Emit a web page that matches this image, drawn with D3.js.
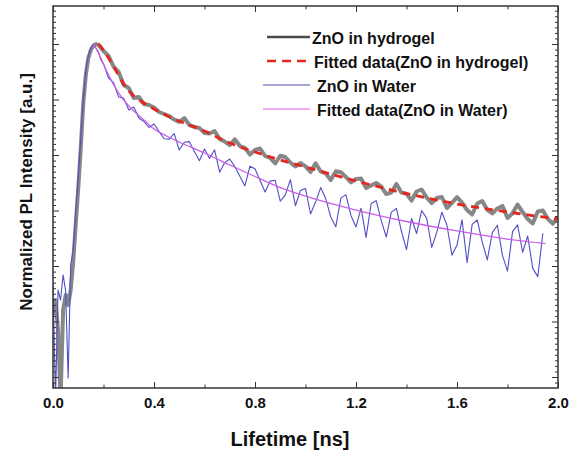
<!DOCTYPE html>
<html>
<head>
<meta charset="utf-8">
<script src="https://cdn.jsdelivr.net/npm/d3@7"></script>
<style>
  html, body { margin: 0; padding: 0; background: #fff; }
  svg { display: block; font-family: 'Liberation Sans', Arial, sans-serif; }
</style>
</head>
<body>
<div id="chart"></div>
<script>
const width = 576;
const height = 451;
const margin = { top: 6, right: 18, bottom: 63, left: 53 };

// time channels (ns)
const timeNs = [
  0, 0.01, 0.02, 0.03, 0.04, 0.05, 0.06, 0.07, 0.08, 0.09, 0.1, 0.11, 0.12, 0.13, 0.14,
  0.15, 0.16, 0.17, 0.18, 0.19, 0.2,
  0.22, 0.24, 0.26, 0.28, 0.3, 0.32, 0.34, 0.36, 0.38, 0.4, 0.42, 0.44, 0.46, 0.48, 0.5,
  0.52, 0.54, 0.56, 0.58, 0.6, 0.62, 0.64, 0.66, 0.68, 0.7, 0.72, 0.74, 0.76, 0.78, 0.8,
  0.82, 0.84, 0.86, 0.88, 0.9, 0.92, 0.94, 0.96, 0.98, 1.0, 1.02, 1.04, 1.06, 1.08, 1.1,
  1.12, 1.14, 1.16, 1.18, 1.2, 1.22, 1.24, 1.26, 1.28, 1.3, 1.32, 1.34, 1.36, 1.38, 1.4,
  1.42, 1.44, 1.46, 1.48, 1.5, 1.52, 1.54, 1.56, 1.58, 1.6, 1.62, 1.64, 1.66, 1.68, 1.7,
  1.72, 1.74, 1.76, 1.78, 1.8, 1.82, 1.84, 1.86, 1.88, 1.9, 1.92, 1.94, 1.96, 1.98, 2.0,
];

// ZnO in hydrogel (normalized)
const hydrogel = [
  1.31e-5, 2.44e-5, 7.0e-6, 4e-7, 1.61e-5, 3.0e-5, 1.98e-5, 3.7e-5, 1.18e-4, 5.5e-4, 2.54e-3,
  0.0134, 0.0865, 0.276, 0.56, 0.78, 0.92, 1.0, 0.96, 0.85, 0.748,
  0.608, 0.393, 0.313, 0.1825, 0.161, 0.1064, 0.111, 0.083, 0.0796, 0.0718,
  0.0596, 0.0548, 0.0504, 0.0436, 0.0394, 0.0464, 0.0347, 0.032, 0.0306, 0.0249,
  0.0244, 0.027, 0.0194, 0.0175, 0.0151, 0.0192, 0.0145, 0.0134, 0.0102, 0.0123,
  0.0131, 0.0096, 0.00883, 0.00703, 0.0097, 0.0092, 0.00733, 0.0062, 0.00718, 0.00625,
  0.00494, 0.0071, 0.00505, 0.00464, 0.00355, 0.0051, 0.0049, 0.00402, 0.0032, 0.0037,
  0.00377, 0.00254, 0.00282, 0.00313, 0.0027, 0.00198, 0.00211, 0.003, 0.0021, 0.002,
  0.00151, 0.0022, 0.00239, 0.00171, 0.00136, 0.00168, 0.00175, 0.00111, 0.00137, 0.00174,
  0.00139, 0.00102, 0.000847, 0.00134, 0.00148, 0.00103, 0.000883, 0.00109, 0.00121, 0.000733,
  0.00089, 0.00128, 0.00094, 0.000703, 0.000583, 0.00096, 0.001, 0.0007, 0.00058, 0.000764,
];

// ZnO in water (normalized), same channels up to 1.94 ns
const water = [
  4.55e-5, 4e-7, 3.7e-5, 2.44e-5, 6.9e-5, 3.6e-5, 9.6e-7, 1.04e-4, 1.94e-4, 9.4e-4, 3.85e-3,
  0.0202, 0.106, 0.34, 0.634, 0.883, 1.0, 0.847, 0.718, 0.515, 0.436,
  0.244, 0.202, 0.111, 0.106, 0.0647, 0.0733, 0.0465, 0.0402, 0.0313, 0.0362, 0.0264, 0.0196,
  0.0193, 0.0243,
  0.0123, 0.017, 0.0174, 0.0116, 0.00787, 0.0128, 0.00869, 0.0124, 0.0049, 0.0073,
  0.00847, 0.00618, 0.00413, 0.00277, 0.00628, 0.00566, 0.00347, 0.00216, 0.00339, 0.0035,
  0.00147, 0.00189, 0.0036, 0.00122, 0.00229,
  0.00249, 0.000865, 0.00142, 0.00259, 0.00164, 0.000764, 0.000508, 0.00167, 0.00193, 0.000816,
  0.000505, 0.0011, 0.000327, 0.00134, 0.0015, 0.000655, 0.000333, 0.000936, 0.00109, 0.000422,
  0.000198, 0.000718, 0.000386, 0.001, 0.000723,
  0.000217, 0.000406, 0.000931, 0.000548, 0.000157, 0.000239, 0.000679, 0.000115, 0.000562,
  0.000675, 0.000269, 0.000129, 0.0004, 0.000543, 0.000155, 8.1e-5, 0.000417, 0.000552,
  0.000177, 0.000347, 9.06e-5, 6.44e-5, 0.00039,
];

// fitted curves
const fitHydrogelTime = [0.18, 0.2, 0.22, 0.25, 0.28, 0.32, 0.36, 0.4, 0.45, 0.5, 0.6, 0.7, 0.8, 0.9, 1.0, 1.2, 1.4, 1.6, 1.8, 2.0];
const fitHydrogel = [1.0, 0.78, 0.56, 0.327, 0.19, 0.1156, 0.0865, 0.0675, 0.0515, 0.041, 0.027, 0.01645, 0.01133, 0.00813, 0.00608, 0.0034, 0.00202, 0.00131, 0.00094, 0.000703];

const fitWaterTime = [0.16, 0.18, 0.2, 0.22, 0.25, 0.28, 0.32, 0.36, 0.4, 0.45, 0.5, 0.6, 0.7, 0.8, 0.9, 1.0, 1.2, 1.4, 1.6, 1.8, 1.95];
const fitWater = [1.0, 0.689, 0.436, 0.276, 0.1545, 0.098, 0.0621, 0.0428, 0.0294, 0.022, 0.01714, 0.01086, 0.0066, 0.0041, 0.00259, 0.00182, 0.00102, 0.000634, 0.000428, 0.000306, 0.000254];

const xMajorTicks = [0, 0.4, 0.8, 1.2, 1.6, 2.0];
const xMinorTicks = [0.2, 0.6, 1.0, 1.4, 1.8];
const yMajorTicks = [1e-6, 1e-5, 1e-4, 1e-3, 1e-2, 1e-1, 1];

const legendLabels = [
  'ZnO in hydrogel',
  'Fitted data(ZnO in hydrogel)',
  'ZnO in Water',
  'Fitted data(ZnO in Water)',
];

const svg = d3
  .select('#chart')
  .append('svg')
  .attr('width', width)
  .attr('height', height);

svg.append('rect').attr('width', width).attr('height', height).attr('fill', '#fff');

const x = d3
  .scaleLinear()
  .domain([0, 2])
  .range([margin.left, width - margin.right]);

const y = d3
  .scaleLog()
  .domain([6.34e-7, 4.84])
  .range([height - margin.bottom, margin.top]);

// minor y ticks: 10 steps per decade
let yMinorTicks = [];
for (let k = -7; k <= 0; k++) {
  for (let j = 1; j < 10; j++) {
    const v = Math.pow(10, k + j / 10);
    if (v >= y.domain()[0] && v <= y.domain()[1]) yMinorTicks.push(v);
  }
}

svg
  .append('defs')
  .append('clipPath')
  .attr('id', 'plotClip')
  .append('rect')
  .attr('x', margin.left)
  .attr('y', margin.top)
  .attr('width', width - margin.left - margin.right)
  .attr('height', height - margin.top - margin.bottom);

const plot = svg.append('g').attr('clip-path', 'url(#plotClip)');

const rawLine = d3
  .line()
  .x((d) => x(d[0]))
  .y((d) => y(d[1]));

const fitLine = d3
  .line()
  .x((d) => x(d[0]))
  .y((d) => y(d[1]))
  .curve(d3.curveMonotoneX);

plot
  .append('path')
  .datum(hydrogel.map((v, i) => [timeNs[i], v]))
  .attr('d', rawLine)
  .attr('fill', 'none')
  .attr('stroke', '#878787')
  .attr('stroke-width', 4)
  .attr('stroke-linejoin', 'round');

plot
  .append('path')
  .datum(water.map((v, i) => [timeNs[i], v]))
  .attr('d', rawLine)
  .attr('fill', 'none')
  .attr('stroke', '#5050c4')
  .attr('stroke-width', 1.1)
  .attr('stroke-linejoin', 'round');

plot
  .append('path')
  .datum(fitHydrogel.map((v, i) => [fitHydrogelTime[i], v]))
  .attr('d', fitLine)
  .attr('fill', 'none')
  .attr('stroke', '#e5261e')
  .attr('stroke-width', 2.8)
  .attr('stroke-dasharray', '8,6');

plot
  .append('path')
  .datum(fitWater.map((v, i) => [fitWaterTime[i], v]))
  .attr('d', fitLine)
  .attr('fill', 'none')
  .attr('stroke', '#cc5ee8')
  .attr('stroke-width', 1.3);

// axes, ticks pointing inward
function styleAxis(g) {
  g.select('.domain').remove();
  g.selectAll('line').attr('stroke', '#333').attr('stroke-width', 1);
  g.selectAll('text')
    .attr('fill', '#111')
    .attr('font-size', 15)
    .attr('font-weight', 'bold');
}

const bottom = height - margin.bottom;
const right = width - margin.right;

svg
  .append('g')
  .attr('transform', `translate(0,${bottom})`)
  .call(
    d3.axisBottom(x).tickValues(xMajorTicks).tickSize(-6).tickPadding(9).tickFormat(d3.format('.1f'))
  )
  .call(styleAxis);

svg
  .append('g')
  .attr('transform', `translate(0,${bottom})`)
  .call(d3.axisBottom(x).tickValues(xMinorTicks).tickSize(-3.5).tickFormat(''))
  .call(styleAxis);

svg
  .append('g')
  .attr('transform', `translate(0,${margin.top})`)
  .call(d3.axisTop(x).tickValues(xMajorTicks).tickSize(-6).tickFormat(''))
  .call(styleAxis);

svg
  .append('g')
  .attr('transform', `translate(0,${margin.top})`)
  .call(d3.axisTop(x).tickValues(xMinorTicks).tickSize(-3.5).tickFormat(''))
  .call(styleAxis);

svg
  .append('g')
  .attr('transform', `translate(${margin.left},0)`)
  .call(d3.axisLeft(y).tickValues(yMajorTicks).tickSize(-6).tickFormat(''))
  .call(styleAxis);

svg
  .append('g')
  .attr('transform', `translate(${margin.left},0)`)
  .call(d3.axisLeft(y).tickValues(yMinorTicks).tickSize(-3).tickFormat(''))
  .call(styleAxis);

svg
  .append('g')
  .attr('transform', `translate(${right},0)`)
  .call(d3.axisRight(y).tickValues(yMajorTicks).tickSize(-6).tickFormat(''))
  .call(styleAxis);

svg
  .append('g')
  .attr('transform', `translate(${right},0)`)
  .call(d3.axisRight(y).tickValues(yMinorTicks).tickSize(-3).tickFormat(''))
  .call(styleAxis);

svg
  .append('rect')
  .attr('x', margin.left)
  .attr('y', margin.top)
  .attr('width', right - margin.left)
  .attr('height', bottom - margin.top)
  .attr('fill', 'none')
  .attr('stroke', '#333')
  .attr('stroke-width', 1.5);

// titles
svg
  .append('text')
  .attr('x', 290)
  .attr('y', 446)
  .attr('text-anchor', 'middle')
  .attr('font-size', 20)
  .attr('font-weight', 'bold')
  .attr('fill', '#111')
  .text('Lifetime [ns]');

svg
  .append('text')
  .attr('transform', 'translate(32,192) rotate(-90)')
  .attr('text-anchor', 'middle')
  .attr('font-size', 17)
  .attr('font-weight', 'bold')
  .attr('fill', '#111')
  .text('Normalized PL Intensity [a.u.]');

// legend
const legendStyles = [
  { color: '#4a4a4a', width: 2.5, dash: null, x0: 267 },
  { color: '#e5261e', width: 2.5, dash: '9,6', x0: 267 },
  { color: '#8a8ac8', width: 1.5, dash: null, x0: 263 },
  { color: '#f090ee', width: 1.5, dash: null, x0: 263 },
];
const legendTextX = [312, 314, 317, 317];

const legend = svg.append('g');
legendLabels.forEach((label, i) => {
  const ly = 37 + i * 24;
  const s = legendStyles[i];
  legend
    .append('line')
    .attr('x1', s.x0)
    .attr('x2', 310)
    .attr('y1', ly)
    .attr('y2', ly)
    .attr('stroke', s.color)
    .attr('stroke-width', s.width)
    .attr('stroke-dasharray', s.dash);
  legend
    .append('text')
    .attr('x', legendTextX[i])
    .attr('y', ly + 1)
    .attr('dy', '0.35em')
    .attr('font-size', 16)
    .attr('font-weight', 'bold')
    .attr('fill', '#111')
    .text(label);
});
</script>
</body>
</html>
